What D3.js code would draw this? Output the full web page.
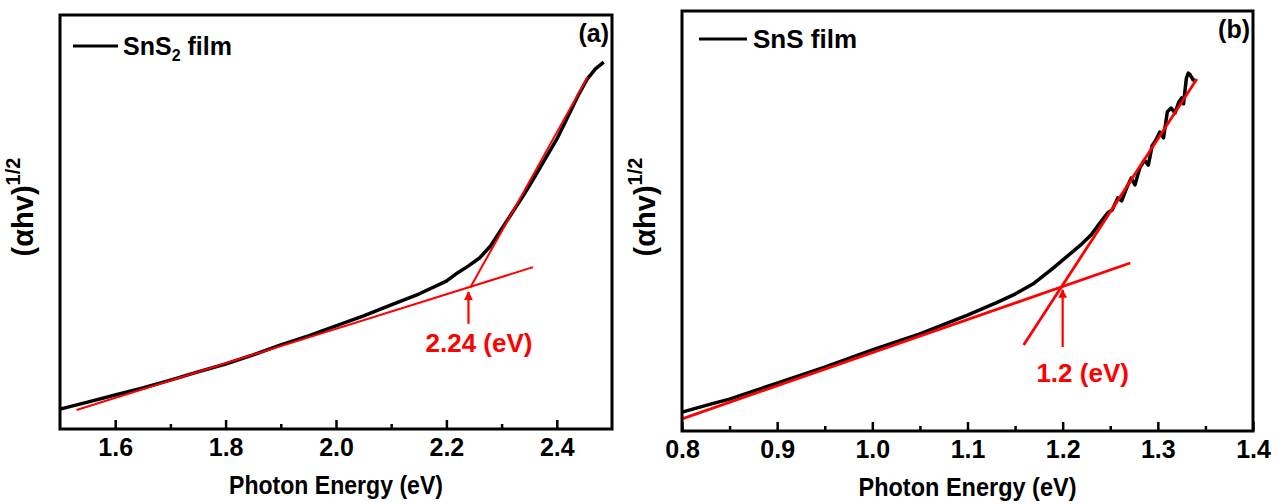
<!DOCTYPE html>
<html><head><meta charset="utf-8">
<script src="https://cdn.jsdelivr.net/npm/d3@7"></script>
<style>
html,body{margin:0;padding:0;background:#fff;}
svg text{font-family:"Liberation Sans",Arial,sans-serif;font-weight:bold;}
</style></head>
<body>
<svg id="chart" width="1282" height="504"></svg>
<script>
// ---------- Panel (a): SnS2 film ----------
const energyA = [1.50,1.55,1.60,1.65,1.70,1.75,1.80,1.85,1.90,1.95,2.00,2.05,2.10,2.15,2.20,2.22,2.24,2.26,2.28,2.30,2.32,2.34,2.36,2.38,2.40,2.42,2.44,2.455,2.47,2.485];
const absA    = [4.8,6.5,8.2,9.9,11.8,13.8,15.7,17.9,20.3,22.5,24.9,27.3,30.0,32.6,35.7,37.7,39.4,41.3,44.2,48.3,52.4,56.5,60.9,65.5,70.0,75.4,80.9,84.5,87.0,88.6];
const fitLowA_E = [1.53, 2.357];
const fitLowA_V = [4.6, 39.1];
const fitHighA_E = [2.243, 2.456];
const fitHighA_V = [34.1, 85.0];
const arrowA_E = 2.24, arrowA_V = [25.4, 33.1];
const labelA = "2.24 (eV)", labelA_E = 2.259, labelA_V = 20.8;
const majorTicksA = [1.6,1.8,2.0,2.2,2.4];
const minorTicksA = [1.7,1.9,2.1,2.3];

// ---------- Panel (b): SnS film ----------
const energyB = [0.80,0.83,0.85,0.90,0.95,1.00,1.05,1.10,1.13,1.15,1.17,1.19,1.20,1.21,1.22,1.23,1.24,1.248,1.252,1.258,1.262,1.268,1.272,1.276,1.281,1.286,1.290,1.294,1.298,1.302,1.306,1.310,1.314,1.318,1.322,1.325,1.327,1.330,1.332,1.334,1.337,1.339];
const absB    = [4.5,6.4,7.6,11.4,15.2,19.3,23.1,27.6,30.5,32.6,35.2,38.8,40.7,42.6,44.5,46.7,49.8,52.1,52.6,55.5,54.8,58.3,60.2,58.6,62.6,64.5,63.3,67.9,69.3,71.2,69.8,76.0,76.9,75.7,78.3,79.3,77.9,84.0,85.2,84.8,83.6,83.6];
const fitLowB_E = [0.80, 1.271];
const fitLowB_V = [2.9, 40.0];
const fitHighB_E = [1.159, 1.341];
const fitHighB_V = [20.5, 83.8];
const arrowB_E = 1.2, arrowB_V = [20.0, 33.6];
const labelB = "1.2 (eV)", labelB_E = 1.221, labelB_V = 14.0;
const majorTicksB = [0.8,0.9,1.0,1.1,1.2,1.3,1.4];
const minorTicksB = [0.85,0.95,1.05,1.15,1.25,1.35];

const xTitle = "Photon Energy (eV)";

const svg = d3.select("#chart");
const defs = svg.append("defs");
defs.append("marker").attr("id","arrowRed").attr("viewBox","0 0 10 10")
  .attr("refX",9).attr("refY",5).attr("markerWidth",4).attr("markerHeight",4)
  .attr("orient","auto").attr("markerUnits","strokeWidth")
  .append("path").attr("d","M0,0 L10,5 L0,10 z").attr("fill","#ff0000");

function panel(cfg){
  const {left, right, top, bottom} = cfg.box;
  const x = d3.scaleLinear().domain(cfg.xDomain).range([left, right]);
  const y = d3.scaleLinear().domain([0,100]).range([bottom, top]);
  const g = svg.append("g");

  // ticks (inward) on the bottom axis
  const axMajor = d3.axisBottom(x).tickValues(cfg.major).tickSize(-9).tickPadding(9)
    .tickFormat(d3.format(".1f"));
  const axMinor = d3.axisBottom(x).tickValues(cfg.minor).tickSize(-5).tickFormat("");
  const gM = g.append("g").attr("transform",`translate(0,${bottom})`).call(axMajor);
  const gm = g.append("g").attr("transform",`translate(0,${bottom})`).call(axMinor);
  [gM, gm].forEach(a=>{ a.select(".domain").remove();
    a.selectAll(".tick line").attr("stroke","#000").attr("stroke-width",2.5); });
  gM.selectAll(".tick text").attr("font-size",25).attr("fill","#000");

  // data curve
  const line = d3.line().x((d,i)=>x(d[0])).y(d=>y(d[1]));
  g.append("path").datum(cfg.E.map((e,i)=>[e,cfg.V[i]]))
    .attr("d", line).attr("fill","none").attr("stroke","#000")
    .attr("stroke-width",3.5).attr("stroke-linejoin","round");

  // fit lines
  [[cfg.fitLowE,cfg.fitLowV],[cfg.fitHighE,cfg.fitHighV]].forEach(([ee,vv])=>{
    g.append("path").datum(ee.map((e,i)=>[e,vv[i]])).attr("d",line)
      .attr("fill","none").attr("stroke","#ff0000").attr("stroke-width",cfg.fitW);
  });

  // arrow
  g.append("line").attr("x1",x(cfg.arrowE)).attr("x2",x(cfg.arrowE))
    .attr("y1",y(cfg.arrowV[0])).attr("y2",y(cfg.arrowV[1]))
    .attr("stroke","#ff0000").attr("stroke-width",2.2).attr("marker-end","url(#arrowRed)");
  g.append("text").attr("x",x(cfg.labelE)).attr("y",y(cfg.labelV)).attr("dy","0.36em")
    .attr("text-anchor","middle").attr("font-size",26).attr("fill","#ff0000").text(cfg.label);

  // frame
  g.append("rect").attr("x",left).attr("y",top).attr("width",right-left).attr("height",bottom-top)
    .attr("fill","none").attr("stroke","#000").attr("stroke-width",3);

  // x title
  g.append("text").attr("x",(left+right)/2).attr("y",bottom+65).attr("text-anchor","middle")
    .attr("font-size",26).attr("textLength",cfg.titleLen).attr("lengthAdjust","spacingAndGlyphs")
    .attr("fill","#000").text(xTitle);

  // y title
  const yt = g.append("text").attr("transform",`translate(${left-27},${cfg.yTitleCenter}) rotate(-90)`)
    .attr("text-anchor","middle").attr("font-size",29).attr("fill","#000");
  yt.append("tspan").text("(αhv)");
  yt.append("tspan").attr("font-size",20).attr("dy",-13).text("1/2");

  // legend
  g.append("line").attr("x1",left+cfg.legendX[0]).attr("x2",left+cfg.legendX[1])
    .attr("y1",cfg.legendY).attr("y2",cfg.legendY)
    .attr("stroke","#000").attr("stroke-width",3);
  const lt = g.append("text").attr("x",left+cfg.legendX[2]).attr("y",cfg.legendY+9)
    .attr("font-size",cfg.legendSize).attr("fill","#000");
  cfg.legend.forEach(p=>{
    const t = lt.append("tspan").text(p.t);
    if(p.sub){ t.attr("font-size",16).attr("dy",6); }
    else if(p.after){ t.attr("dy",-6); }
  });

  // panel tag
  g.append("text").attr("x",right-3).attr("y",top+27).attr("text-anchor","end")
    .attr("font-size",25).attr("fill","#000").text(cfg.tag);
}

panel({box:{left:60,right:612,top:15,bottom:429}, xDomain:[1.5,2.5],
  major:majorTicksA, minor:minorTicksA, E:energyA, V:absA,
  fitLowE:fitLowA_E, fitLowV:fitLowA_V, fitHighE:fitHighA_E, fitHighV:fitHighA_V, fitW:2,
  arrowE:arrowA_E, arrowV:arrowA_V, label:labelA, labelE:labelA_E, labelV:labelA_V,
  yTitleCenter:207, legendY:46, legendX:[13,58,63], legendSize:25, titleLen:214, tag:"(a)",
  legend:[{t:"SnS"},{t:"2",sub:true},{t:" film",after:true}]});

panel({box:{left:682,right:1253,top:11,bottom:431}, xDomain:[0.8,1.4],
  major:majorTicksB, minor:minorTicksB, E:energyB, V:absB,
  fitLowE:fitLowB_E, fitLowV:fitLowB_V, fitHighE:fitHighB_E, fitHighV:fitHighB_V, fitW:2.8,
  arrowE:arrowB_E, arrowV:arrowB_V, label:labelB, labelE:labelB_E, labelV:labelB_V,
  yTitleCenter:207, legendY:39, legendX:[17,65,71], legendSize:26, titleLen:218, tag:"(b)",
  legend:[{t:"SnS film"}]});
</script>
</body></html>
